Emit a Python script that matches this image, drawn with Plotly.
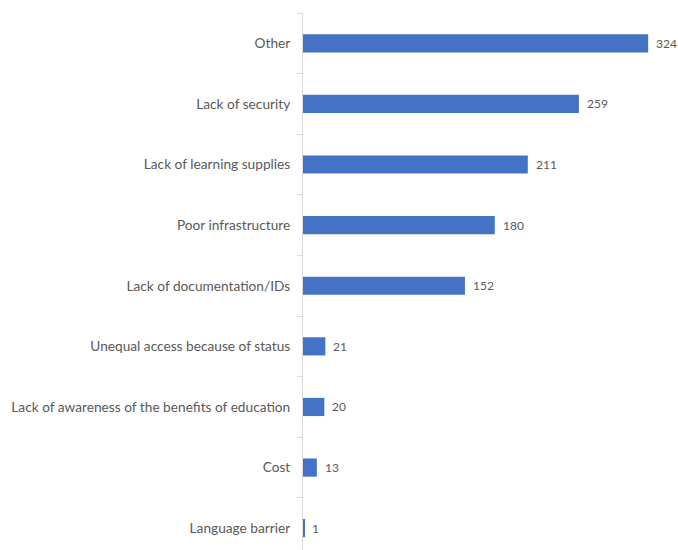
import plotly.graph_objects as go

categories = [
    "Other",
    "Lack of security",
    "Lack of learning supplies",
    "Poor infrastructure",
    "Lack of documentation/IDs",
    "Unequal access because of status",
    "Lack of awareness of the benefits of education",
    "Cost",
    "Language barrier",
]
counts = [324, 259, 211, 180, 152, 21, 20, 13, 1]

BAR_COLOR = "#4472C4"
TEXT_COLOR = "#595959"
AXIS_COLOR = "#D9D9D9"
FONT = "Lato, 'Open Sans', sans-serif"

fig = go.Figure(
    go.Bar(
        x=counts,
        y=categories,
        orientation="h",
        marker=dict(color=BAR_COLOR, line=dict(width=0)),
        width=0.3,
        hoverinfo="x+y",
    )
)

# value labels just past the end of each bar
for cat, val in zip(categories, counts):
    fig.add_annotation(
        x=val,
        y=cat,
        text=str(val),
        showarrow=False,
        xanchor="left",
        yanchor="middle",
        xshift=6,
        font=dict(family=FONT, size=12, color=TEXT_COLOR),
    )

fig.update_layout(
    width=678,
    height=550,
    margin=dict(l=303, r=0, t=13, b=0),
    paper_bgcolor="white",
    plot_bgcolor="white",
    showlegend=False,
    font=dict(family=FONT, size=13, color=TEXT_COLOR),
    xaxis=dict(
        range=[0, 352],
        showgrid=False,
        showticklabels=False,
        zeroline=False,
        showline=False,
        ticks="",
    ),
    yaxis=dict(
        type="category",
        categoryorder="array",
        categoryarray=categories,
        range=[8.36, -0.5],
        showgrid=False,
        zeroline=False,
        showline=True,
        linecolor=AXIS_COLOR,
        linewidth=1,
        ticks="outside",
        tickson="boundaries",
        ticklen=5,
        tickcolor=AXIS_COLOR,
        ticklabelstandoff=9,
        tickfont=dict(family=FONT, size=13.7, color=TEXT_COLOR),
    ),
)

fig.write_html("out.html")
